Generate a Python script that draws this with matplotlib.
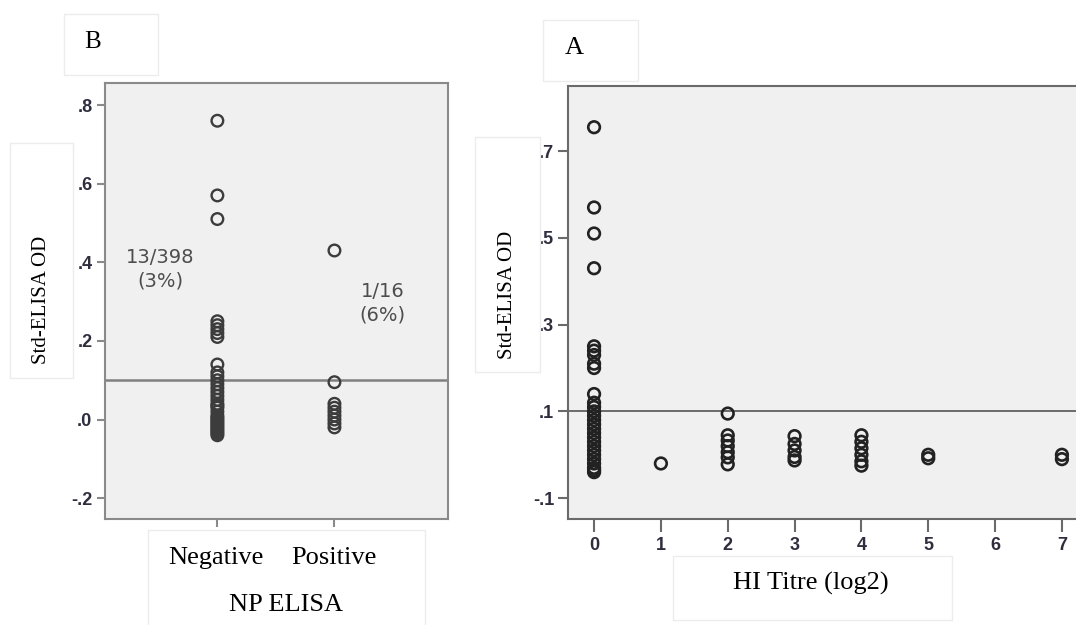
import matplotlib.pyplot as plt
from matplotlib.patches import Rectangle

W, H = 1076, 625

# panel B: NP ELISA groups
np_categories = ["Negative", "Positive"]
np_negative = [0.76, 0.57, 0.51, 0.25, 0.24, 0.23, 0.22, 0.21, 0.14, 0.12, 0.11,
               0.10, 0.09, 0.08, 0.07, 0.06, 0.05, 0.04, 0.035, 0.03, 0.02, 0.01,
               0.005, 0.0, -0.005, -0.01, -0.015, -0.02, -0.025, -0.03, -0.035, -0.04]
np_positive = [0.43, 0.095, 0.04, 0.03, 0.02, 0.01, 0.0, -0.01, -0.02]
b_yticks = [-0.2, 0.0, 0.2, 0.4, 0.6, 0.8]
b_yticklabels = ["-.2", ".0", ".2", ".4", ".6", ".8"]

# panel A: HI titre (log2)
hi_titre = [0] * 28 + [1] + [2] * 7 + [3] * 5 + [4] * 6 + [5] * 2 + [7] * 2
hi_od = [0.755, 0.57, 0.51, 0.43, 0.25, 0.24, 0.23, 0.21, 0.20, 0.14, 0.12, 0.11,
         0.10, 0.09, 0.08, 0.07, 0.06, 0.05, 0.04, 0.03, 0.02, 0.01, 0.0, -0.01,
         -0.02, -0.03, -0.035, -0.04,
         -0.02,
         0.095, 0.045, 0.033, 0.02, 0.006, -0.006, -0.022,
         0.043, 0.025, 0.01, -0.005, -0.013,
         0.045, 0.03, 0.015, 0.0, -0.015, -0.025,
         0.0, -0.008,
         0.0, -0.01]
a_xticks = [0, 1, 2, 3, 4, 5, 6, 7]
a_yticks = [-0.1, 0.1, 0.3, 0.5, 0.7]
a_yticklabels = ["-.1", ".1", ".3", ".5", ".7"]

cutoff = 0.1
BG = "#f0f0f0"
TICK_COL = "#2e2e3e"


def px_axes(left, top, right, bottom):
    return [left / W, 1 - bottom / H, (right - left) / W, (bottom - top) / H]


def box(fig, x0, y0, x1, y1):
    fig.add_artist(Rectangle((x0 / W, 1 - y1 / H), (x1 - x0) / W, (y1 - y0) / H,
                             transform=fig.transFigure, facecolor="white",
                             edgecolor="#ececec", linewidth=1, zorder=3))


def ftext(fig, x, y, s, **kw):
    fig.text(x / W, 1 - y / H, s, ha="center", va="center", zorder=4,
             family="Liberation Serif", color="black", **kw)


def style_axes(ax, spine_col):
    ax.set_facecolor(BG)
    for sp in ax.spines.values():
        sp.set_color(spine_col)
        sp.set_linewidth(1.5)
    ax.tick_params(axis="both", colors=spine_col, labelcolor=TICK_COL,
                   labelsize=13, width=1.5)
    for lab in ax.get_xticklabels() + ax.get_yticklabels():
        lab.set_fontfamily("Liberation Sans")
        lab.set_fontweight("bold")


fig = plt.figure(figsize=(W / 100, H / 100), dpi=100)

# ---- panel B ----
axb = fig.add_axes(px_axes(105, 83, 448, 519))
xb = [1] * len(np_negative) + [2] * len(np_positive)
axb.scatter(xb, np_negative + np_positive, s=70, facecolors="none",
            edgecolors="#3c3c3c", linewidths=1.7, zorder=3)
axb.axhline(cutoff, color="#808080", linewidth=1.8, zorder=2)
axb.set_xlim(0.04, 2.97)
axb.set_ylim(-0.253, 0.856)
axb.set_xticks([1, 2])
axb.set_xticklabels(["", ""])
axb.set_yticks(b_yticks)
axb.set_yticklabels(b_yticklabels)
style_axes(axb, "#8a8a8a")
axb.tick_params(axis="y", length=6, pad=3)
axb.tick_params(axis="x", length=6)
axb.text(0.51, 0.382, "13/398\n(3%)", ha="center", va="center", fontsize=14,
         color="#4d4d4d", linespacing=1.3)
axb.text(2.41, 0.295, "1/16\n(6%)", ha="center", va="center", fontsize=14,
         color="#4d4d4d", linespacing=1.3)

# ---- panel A ----
axa = fig.add_axes(px_axes(568, 86, 1090, 519))
axa.scatter(hi_titre, hi_od, s=70, facecolors="none", edgecolors="#222222",
            linewidths=1.9, zorder=3)
axa.axhline(cutoff, color="#555555", linewidth=1.2, zorder=2)
axa.set_xlim(-0.39, 7.42)
axa.set_ylim(-0.148, 0.85)
axa.set_xticks(a_xticks)
axa.set_yticks(a_yticks)
axa.set_yticklabels(a_yticklabels)
style_axes(axa, "#6a6a6a")
axa.tick_params(axis="y", length=7, pad=3)
axa.tick_params(axis="x", length=9, pad=4)

# ---- white label boxes ----
box(fig, 64, 14, 158, 75)
ftext(fig, 93, 42, "B", fontsize=18)
box(fig, 10, 143, 73, 378)
ftext(fig, 42, 300, "Std-ELISA OD", fontsize=15, rotation=90)
box(fig, 148, 530, 425, 640)
ftext(fig, 216, 558, np_categories[0], fontsize=19)
ftext(fig, 334, 558, np_categories[1], fontsize=19)
ftext(fig, 286, 605, "NP ELISA", fontsize=19)

box(fig, 543, 20, 638, 81)
ftext(fig, 574, 48, "A", fontsize=19)
box(fig, 475, 137, 540, 372)
ftext(fig, 508, 295, "Std-ELISA OD", fontsize=15, rotation=90)
box(fig, 673, 556, 952, 620)
ftext(fig, 811, 583, "HI Titre (log2)", fontsize=19)

fig.savefig("out.png", dpi=100)
